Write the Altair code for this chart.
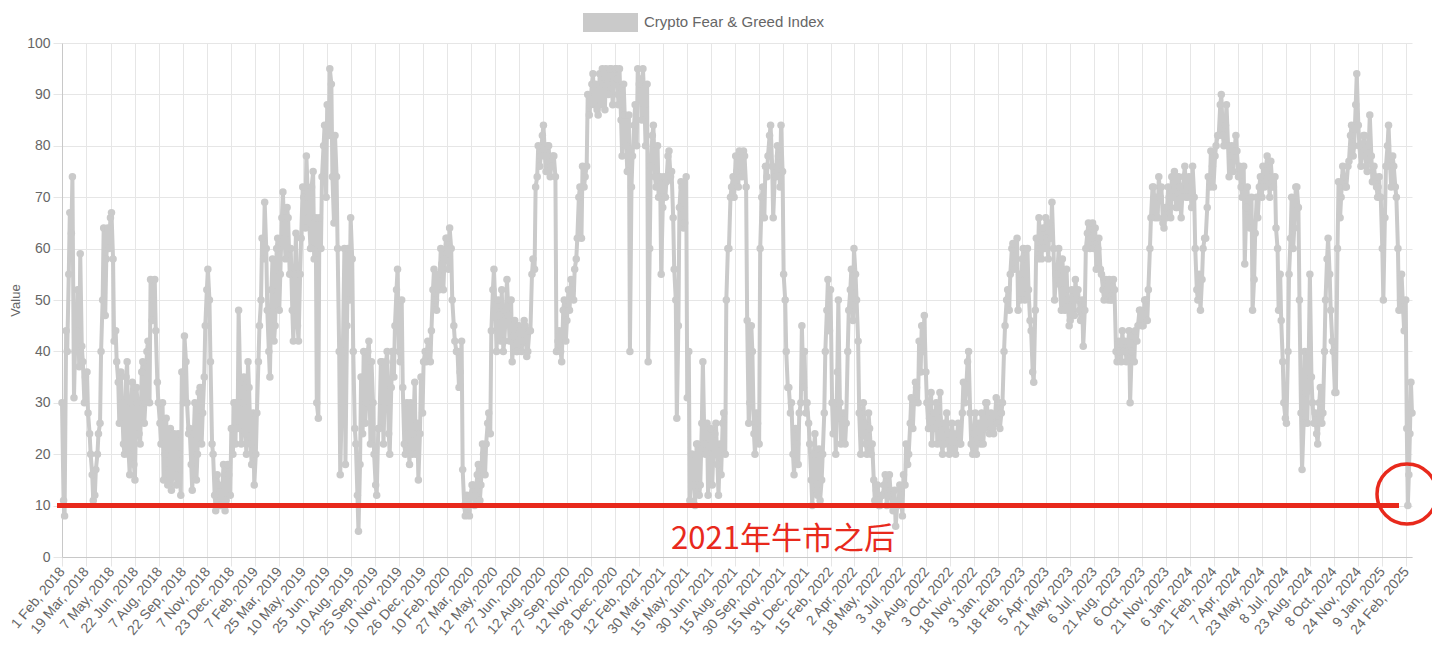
import altair as alt
import pandas as pd

SERIES = "Crypto Fear & Greed Index"
NOTE = "2021年牛市之后"
Y_TITLE = "Value"

# Index values, one every 5 days from each list's start date
v2018 = [30, 8, 40, 67, 74, 40,
         52, 59, 38, 35, 28, 20,
         11, 17, 24, 40, 64, 58,
         60, 67, 42, 38, 26, 30,
         20, 38, 16, 34, 15, 30,
         22, 38, 30, 42, 54, 50, 44,
         30, 22, 15, 27, 17, 13,
         24, 14, 20, 36, 43, 30,
         25, 13, 30, 20, 33, 28,
         45, 56, 38, 20, 9, 14,
         10, 18, 11, 16, 25, 30]
v2019 = [30, 48, 22, 35, 20, 33, 18,
         14, 28, 45, 62, 69,
         48, 35, 58, 45, 62, 55,
         71, 58, 66, 60, 42, 63,
         42, 62, 70, 78, 66, 72, 58,
         30, 66, 74, 84, 88, 95,
         74, 82, 60, 16, 40, 18,
         60, 66, 40, 22, 5, 35,
         40, 30, 42, 38, 20, 12,
         25, 38, 30, 40, 20, 40,
         45, 56, 38, 33, 20, 24,
         30, 24, 20, 15, 35, 38]
v2020 = [38, 40, 44, 56, 48, 52, 57,
         58, 62, 64, 50, 42,
         40, 36, 17, 8, 10, 12, 14,
         12, 18, 14, 20, 22, 28,
         44, 56, 40, 47, 52, 42,
         54, 42, 38, 46, 40, 44,
         42, 45, 40, 44, 58, 72,
         80, 78, 84, 75, 80, 76,
         78, 40, 44, 38, 50, 46,
         48, 52, 56, 62, 72, 76,
         74, 90, 88, 94, 92, 86,
         88, 92, 95, 90, 95, 93, 95]
v2021 = [93, 95, 78, 86, 75, 40, 78,
         88, 95, 93, 95, 80,
         38, 76, 84, 72, 70, 55,
         74, 73, 79, 75, 56, 27,
         68, 72, 65, 31, 11, 20, 10,
         22, 14, 38, 20, 12, 25,
         20, 26, 12, 16, 28, 50,
         60, 72, 70, 75, 79, 74,
         78, 46, 30, 40, 20, 26,
         60, 72, 76, 78, 84, 66,
         74, 78, 84, 55, 40, 33,
         30, 16, 22, 28, 45, 40]
v2022 = [30, 22, 10, 24, 12, 11, 20,
         40, 54, 52, 24, 20,
         50, 22, 28, 26, 48, 56,
         60, 50, 28, 24, 26, 20,
         25, 22, 11, 14, 10, 12, 16,
         12, 13, 9, 6, 10, 12,
         16, 22, 20, 31, 30, 33,
         42, 45, 47, 30, 27, 22,
         25, 22, 32, 20, 22, 24,
         21, 24, 20, 26, 22, 34,
         32, 40, 22, 24, 20, 26,
         28, 25, 30, 24, 27, 26]
v2023 = [26, 25, 30, 45, 52, 55, 61,
         58, 48, 50, 60, 55,
         52, 44, 34, 62, 66, 58,
         60, 62, 65, 69, 50, 55,
         53, 58, 48, 50, 46, 50, 54,
         52, 46, 41, 60, 65, 62,
         60, 56, 62, 55, 50, 52,
         54, 50, 52, 38, 40, 44,
         42, 40, 30, 43, 44, 45,
         48, 45, 50, 52, 66, 72,
         70, 74, 72, 64, 66, 70,
         74, 75, 68, 72, 70, 76]
v2024 = [70, 72, 76, 60, 50, 48, 60,
         62, 74, 79, 72, 80,
         82, 90, 80, 88, 74, 80, 79,
         79, 76, 70, 57, 72, 64,
         48, 63, 66, 74, 76, 75,
         74, 77, 72, 64, 48, 46,
         30, 26, 55, 70, 64, 72,
         50, 17, 40, 26, 55, 30,
         28, 22, 33, 28, 50, 62,
         48, 40, 32, 73, 70, 74,
         72, 77, 84, 80, 94, 80,
         78, 82, 75, 86, 73, 74, 70]
v2025 = [72, 70, 50, 76, 84, 72, 76,
         70, 48, 55, 44, 25]

# In-between readings (3 days after each of the above), the other side of the daily band
m2018 = [11, 44, 55, 63, 31, 44,
         37, 41, 30, 36, 24, 16,
         12, 20, 26, 50, 47, 64,
         66, 58, 44, 34, 36, 22,
         35, 20, 30, 18, 33, 24,
         36, 26, 40, 30, 46, 54, 34,
         26, 30, 20, 14, 25, 18,
         16, 24, 12, 30, 38, 24,
         18, 24, 15, 32, 22, 35,
         52, 50, 22, 12, 16, 10,
         14, 9, 18, 12, 20, 22]
m2019 = [25, 34, 30, 24, 38, 22, 28,
         20, 38, 50, 58, 60,
         40, 52, 42, 60, 48, 66,
         62, 68, 55, 48, 55, 45,
         55, 72, 64, 70, 60, 75, 66,
         27, 60, 80, 70, 82, 92,
         65, 74, 40, 30, 60, 45,
         50, 58, 25, 12, 18, 24,
         26, 40, 22, 30, 14, 25,
         38, 22, 38, 24, 33, 35,
         52, 40, 50, 22, 30, 18,
         20, 34, 26, 24, 28, 40]
m2020 = [42, 38, 52, 50, 55, 60, 52,
         62, 56, 60, 45, 40,
         33, 42, 10, 12, 8, 14, 10,
         16, 11, 22, 16, 26, 24,
         52, 48, 50, 42, 40, 48,
         47, 50, 43, 40, 45, 40,
         46, 39, 44, 55, 56, 74,
         76, 82, 78, 80, 74, 78,
         74, 42, 40, 48, 42, 52,
         54, 50, 58, 70, 62, 72,
         76, 86, 92, 88, 87, 94,
         95, 87, 92, 95, 88, 95, 90]
m2021 = [88, 85, 92, 80, 86, 72, 84,
         80, 92, 85, 88, 92,
         60, 82, 74, 80, 74, 68,
         70, 78, 74, 66, 50, 45,
         73, 64, 74, 40, 20, 14, 22,
         12, 26, 22, 26, 20, 14,
         24, 18, 22, 26, 20, 60,
         70, 74, 78, 72, 76, 79,
         72, 26, 45, 24, 28, 22,
         70, 66, 74, 82, 76, 74,
         80, 72, 75, 50, 33, 28,
         20, 25, 18, 30, 33, 28]
m2022 = [26, 15, 20, 13, 21, 15, 28,
         48, 44, 30, 30, 36,
         30, 26, 22, 40, 52, 46,
         55, 42, 20, 30, 22, 28,
         20, 15, 13, 10, 12, 14, 10,
         16, 10, 13, 10, 14, 8,
         14, 18, 26, 25, 34, 30,
         36, 40, 36, 25, 32, 28,
         30, 27, 22, 26, 28, 20,
         26, 21, 24, 22, 28, 30,
         38, 28, 20, 28, 25, 22,
         22, 30, 26, 28, 24, 31]
m2023 = [30, 28, 40, 50, 48, 60, 56,
         62, 55, 58, 50, 60,
         46, 36, 48, 58, 60, 64,
         66, 58, 62, 60, 55, 60,
         48, 52, 56, 45, 52, 47, 50,
         48, 50, 48, 63, 60, 65,
         64, 60, 56, 52, 54, 50,
         50, 54, 40, 42, 38, 40,
         38, 44, 40, 38, 42, 48,
         45, 50, 46, 60, 72, 66,
         66, 70, 65, 68, 72, 66,
         70, 68, 74, 66, 74, 70]
m2024 = [74, 68, 70, 52, 55, 54, 62,
         68, 72, 76, 78, 82,
         88, 82, 84, 80, 78, 75, 82,
         74, 72, 76, 68, 66, 70,
         54, 70, 72, 70, 72, 78,
         70, 72, 74, 60, 55, 38,
         27, 40, 62, 60, 72, 68,
         28, 26, 32, 40, 35, 26,
         24, 30, 26, 40, 58, 55,
         42, 32, 60, 66, 76, 72,
         76, 82, 78, 88, 84, 76,
         82, 76, 80, 78, 76, 72, 74]
m2025 = [70, 60, 66, 80, 76, 78, 72,
         60, 50, 48, 50]

tail_dates = ["2025-02-27", "2025-03-01", "2025-03-03", "2025-03-05", "2025-03-07"]
tail_values = [10, 16, 24, 34, 28]

year_starts = ["2018-02-01", "2019-01-01", "2020-01-01", "2021-01-01",
               "2022-01-01", "2023-01-01", "2024-01-01", "2025-01-01"]
year_values = [v2018, v2019, v2020, v2021, v2022, v2023, v2024, v2025]
mid_starts = ["2018-02-04", "2019-01-04", "2020-01-04", "2021-01-04",
              "2022-01-04", "2023-01-04", "2024-01-04", "2025-01-04"]
mid_values = [m2018, m2019, m2020, m2021, m2022, m2023, m2024, m2025]

tick_dates = ["2018-02-01", "2018-03-19", "2018-05-07", "2018-06-22", "2018-08-07", "2018-09-22",
              "2018-11-07", "2018-12-23", "2019-02-07", "2019-03-25", "2019-05-10", "2019-06-25",
              "2019-08-10", "2019-09-25", "2019-11-10", "2019-12-26", "2020-02-10", "2020-03-27",
              "2020-05-12", "2020-06-27", "2020-08-12", "2020-09-27", "2020-11-12", "2020-12-28",
              "2021-02-12", "2021-03-30", "2021-05-15", "2021-06-30", "2021-08-15", "2021-09-30",
              "2021-11-15", "2021-12-31", "2022-02-15", "2022-04-02", "2022-05-18", "2022-07-03",
              "2022-08-18", "2022-10-03", "2022-11-18", "2023-01-03", "2023-02-18", "2023-04-05",
              "2023-05-21", "2023-07-06", "2023-08-21", "2023-10-06", "2023-11-21", "2024-01-06",
              "2024-02-21", "2024-04-07", "2024-05-23", "2024-07-08", "2024-08-23", "2024-10-08",
              "2024-11-24", "2025-01-09", "2025-02-24"]
domain_dates = ["2018-02-01", "2025-03-07"]
y_ticks = [0, 10, 20, 30, 40, 50, 60, 70, 80, 90, 100]


def ms(d):
    return int(pd.Timestamp(d).timestamp() * 1000)


rows = []
for starts, groups in ((year_starts, year_values), (mid_starts, mid_values)):
    for start, vals in zip(starts, groups):
        s = pd.Timestamp(start)
        for i, v in enumerate(vals):
            rows.append({"date": (s + pd.Timedelta(days=5 * i)).strftime("%Y-%m-%d"), "value": v})
for d, v in zip(tail_dates, tail_values):
    rows.append({"date": d, "value": v})
df = pd.DataFrame(rows)
df = df[df["date"] <= domain_dates[1]].sort_values("date").reset_index(drop=True)

FONT = "Liberation Sans"
GREY = "#cacaca"
RED = "#e8291c"
TXT = "#666666"
GRID = "#e6e6e6"

x_enc = alt.X(
    "date:T",
    sort=None,
    scale=alt.Scale(type="utc", domain=[ms(d) for d in domain_dates]),
    axis=alt.Axis(
        values=[ms(d) for d in tick_dates],
        labelExpr="utcFormat(datum.value, '%-d %b, %Y')",
        labelAngle=-50, labelAlign="right", labelBaseline="middle",
        labelFontSize=14, labelColor=TXT, labelFont=FONT, labelPadding=3,
        tickSize=9, tickColor=GRID, gridColor=GRID, domainColor="#c8c8c8",
        labelOverlap=False, labelFlush=False, labelBound=False, title=None,
    ),
)
y_enc = alt.Y(
    "value:Q",
    scale=alt.Scale(domain=[0, 100], nice=False),
    axis=alt.Axis(
        values=y_ticks, labelFontSize=14, labelColor=TXT, labelFont=FONT, labelPadding=3,
        tickSize=9, tickColor=GRID, gridColor=GRID, domainColor="#c8c8c8",
        labelFlush=False, title=Y_TITLE, titleFont=FONT, titleFontSize=13,
        titleFontWeight="normal", titleColor=TXT, titleX=-40, titleY=257,
    ),
)

line = alt.Chart(df).mark_line(
    color=GREY, strokeWidth=4, strokeJoin="round",
    point=alt.OverlayMarkDef(filled=True, size=56, color=GREY, opacity=1),
).encode(x=x_enc, y=y_enc)

one = pd.DataFrame({"k": [0]})

red_rule = alt.Chart(one).mark_rule(color=RED, strokeWidth=5).encode(
    x=alt.value(-5), x2=alt.value(1337), y=alt.datum(10)
)
red_text = alt.Chart(one).mark_text(
    text=NOTE, font="Noto Sans CJK SC", fontSize=31, color=RED,
    align="center", baseline="middle",
).encode(x=alt.value(721), y=alt.value(497))
red_circle = alt.Chart(one).mark_point(
    shape="circle", size=3600, filled=False, color=RED, strokeWidth=3.5, opacity=1
).encode(x=alt.value(1345), y=alt.value(451))

legend_box = alt.Chart(one).mark_rect(color=GREY).encode(
    x=alt.value(521), x2=alt.value(576), y=alt.value(-30), y2=alt.value(-11)
)
legend_text = alt.Chart(one).mark_text(
    text=SERIES, font=FONT, fontSize=15, color=TXT, align="left", baseline="middle"
).encode(x=alt.value(582), y=alt.value(-21))

chart = alt.layer(line, red_rule, red_text, red_circle, legend_box, legend_text).properties(
    width=1350, height=514,
    autosize=alt.AutoSizeParams(type="none"),
    padding={"left": 54, "top": 35, "right": 20, "bottom": 97},
).configure_view(stroke=None)

chart.save("out.html", embed_options={"renderer": "svg", "actions": False})
